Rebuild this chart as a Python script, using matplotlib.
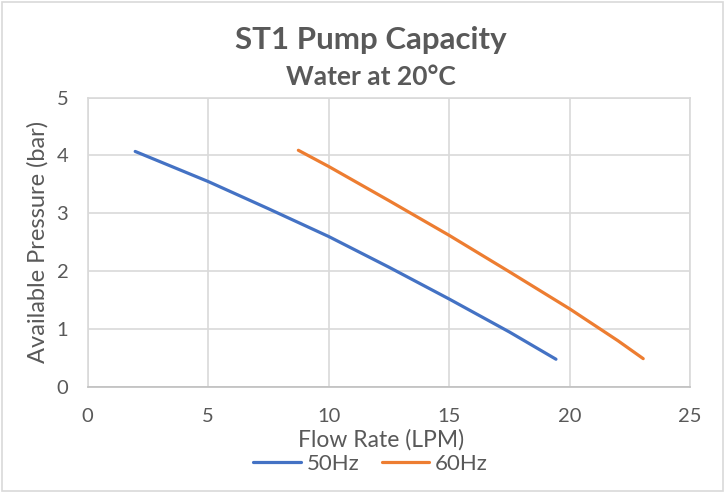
import matplotlib.pyplot as plt
from matplotlib.patches import Rectangle

# values
flow_50 = [1.97, 5.0, 7.5, 10.0, 12.5, 15.0, 17.5, 19.43]
pres_50 = [4.07, 3.55, 3.08, 2.60, 2.07, 1.52, 0.95, 0.48]
flow_60 = [8.74, 10.0, 12.5, 15.0, 17.5, 20.0, 22.0, 23.05]
pres_60 = [4.09, 3.81, 3.22, 2.62, 1.99, 1.35, 0.80, 0.49]
series_names = ['50Hz', '60Hz']
x_ticks = [0, 5, 10, 15, 20, 25]
y_ticks = [0, 1, 2, 3, 4, 5]

TEXT = '#595959'
GRID = '#D9D9D9'
plt.rcParams['font.family'] = ['Lato', 'DejaVu Sans']

fig = plt.figure(figsize=(7.25, 4.93), dpi=100)
ax = fig.add_axes([0.121, 0.215, 0.831, 0.587])

ax.plot(flow_50, pres_50, color='#4472C4', lw=2.3, label=series_names[0], solid_capstyle='round')
ax.plot(flow_60, pres_60, color='#ED7D31', lw=2.3, label=series_names[1], solid_capstyle='round')

ax.set_xlim(0, 25)
ax.set_ylim(0, 5)
ax.set_xticks(x_ticks)
ax.set_yticks(y_ticks)
ax.grid(True, color=GRID, lw=1.2)
ax.set_axisbelow(True)
for side in ['top', 'right', 'left']:
    ax.spines[side].set_color(GRID)
    ax.spines[side].set_linewidth(1.2)
ax.spines['bottom'].set_color('#BFBFBF')
ax.spines['bottom'].set_linewidth(1.2)
ax.tick_params(length=0, labelsize=14.5, labelcolor=TEXT)
ax.tick_params(axis='x', pad=15)
ax.tick_params(axis='y', pad=14)

ax.set_xlabel('Flow Rate (LPM)', fontsize=16.5, color=TEXT, labelpad=0)
ax.xaxis.set_label_coords(0.487, -0.145)
ax.set_ylabel('Available Pressure (bar)', fontsize=17, color=TEXT, labelpad=6)

fig.text(0.512, 0.919, 'ST1 Pump Capacity', ha='center', va='center',
         fontsize=22.5, fontweight='bold', color=TEXT)
fig.text(0.512, 0.844, 'Water at 20°C', ha='center', va='center',
         fontsize=19, fontweight='bold', color=TEXT)

fig.legend(loc='center', bbox_to_anchor=(0.511, 0.059), ncol=2, frameon=False,
           fontsize=16, labelcolor=TEXT, handlelength=2.15, columnspacing=1.0,
           handletextpad=0.25)

fig.patches.append(Rectangle((0.003, 0.004), 0.994, 0.992, transform=fig.transFigure,
                             fill=False, edgecolor=GRID, lw=1.2))

fig.savefig('out.png', dpi=100)
